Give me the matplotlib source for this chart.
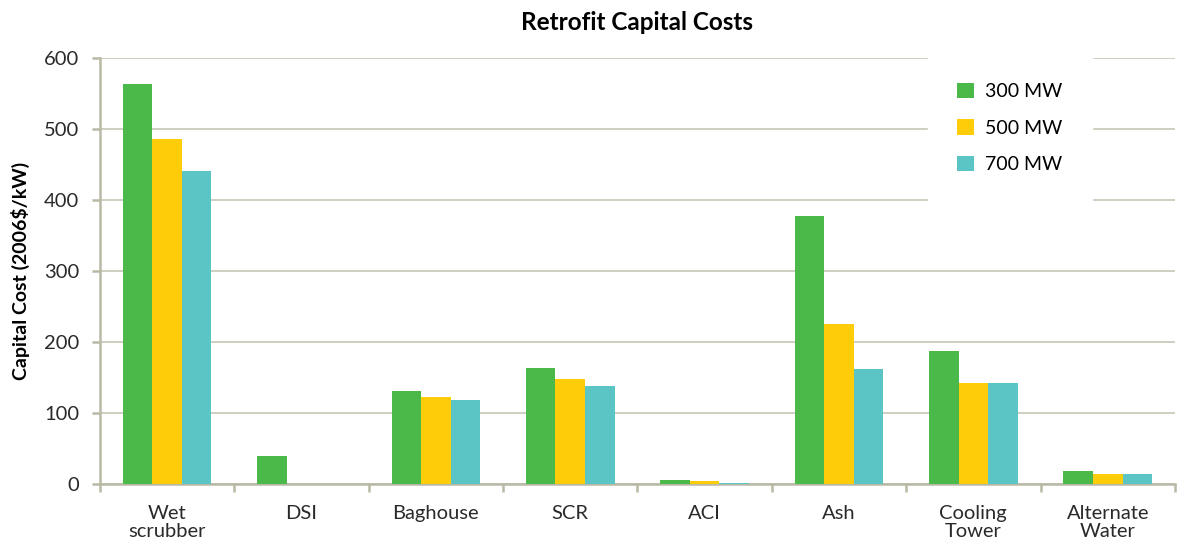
import numpy as np
import matplotlib.pyplot as plt

categories = ['Wet\nscrubber', 'DSI', 'Baghouse', 'SCR', 'ACI', 'Ash', 'Cooling\nTower', 'Alternate\nWater']
mw300 = [564, 39, 131, 163, 5, 377, 188, 19]
mw500 = [486, 0, 122, 148, 4, 226, 142, 14]
mw700 = [441, 0, 118, 138, 2, 162, 142, 14]
series_names = ['300 MW', '500 MW', '700 MW']
colors = ['#4bb84a', '#fecc08', '#5bc5c6']

plt.rcParams['font.family'] = ['Lato', 'DejaVu Sans']
axis_col = '#b9b9a6'

fig = plt.figure(figsize=(11.8, 5.42), dpi=100)
ax = fig.add_axes([0.0847, 0.107, 0.911, 0.786])

x = np.arange(len(categories))
w = 0.22
for i, (vals, name) in enumerate(zip([mw300, mw500, mw700], series_names)):
    ax.bar(x + (i - 1) * w, vals, w, color=colors[i], label=name, zorder=3)

ax.set_xlim(-0.5, len(categories) - 0.5)
ax.set_ylim(0, 600)
ax.set_yticks(range(0, 601, 100))
ax.grid(axis='y', color='#c6c6b6', linewidth=1.2, zorder=0)
ax.set_axisbelow(True)

ax.set_xticks(x)
ax.set_xticklabels(categories, fontsize=14.5, color='#2a2a2a', linespacing=1.1)
ax.set_xticks(np.arange(len(categories) + 1) - 0.5, minor=True)
ax.tick_params(axis='x', which='major', length=0, pad=15)
ax.tick_params(axis='x', which='minor', length=6, width=1.8, color=axis_col, direction='out')
ax.tick_params(axis='y', length=6, width=1.8, color=axis_col, pad=9, labelsize=14.5, labelcolor='#2a2a2a')

for s in ['top', 'right']:
    ax.spines[s].set_visible(False)
for s in ['left', 'bottom']:
    ax.spines[s].set_color(axis_col)
    ax.spines[s].set_linewidth(1.8)

ax.set_ylabel('Capital Cost (2006$/kW)', fontsize=14, fontweight='bold', labelpad=10)
ax.set_title('Retrofit Capital Costs', fontsize=17.5, fontweight='bold', pad=20)

leg = ax.legend(loc='center', bbox_to_anchor=(0.8465, 0.836), fontsize=14,
                frameon=True, facecolor='white', edgecolor='white', framealpha=1,
                handlelength=0.85, handleheight=0.85, handletextpad=0.6,
                labelspacing=0.98, borderpad=1.5, borderaxespad=0, fancybox=False)
leg.set_zorder(5)

fig.savefig('out.png', dpi=100)
